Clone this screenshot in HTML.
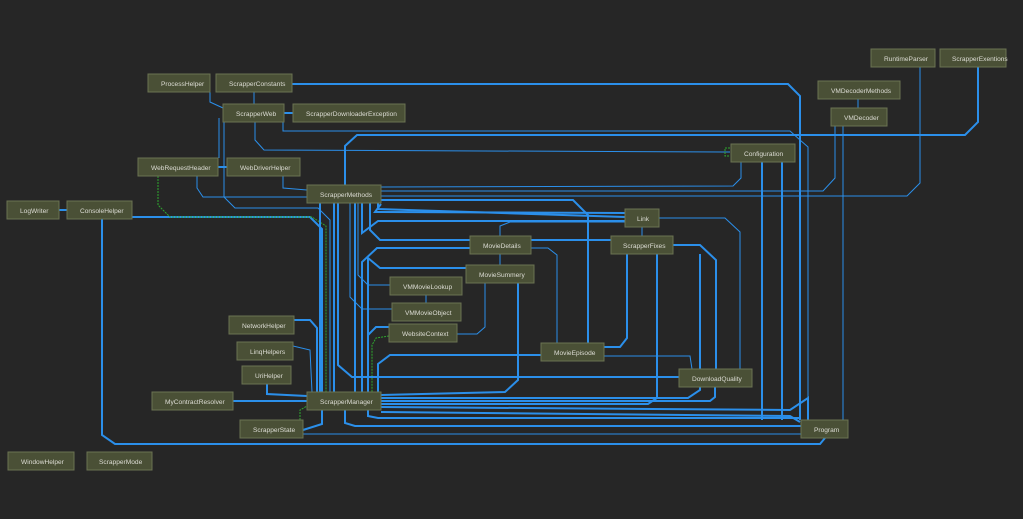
<!DOCTYPE html>
<html><head><meta charset="utf-8"><style>
html,body{margin:0;padding:0;background:#262626;}
svg{display:block}
.n rect{fill:#4a5036;stroke:#6b7352;stroke-width:1}
.n text{font-family:"Liberation Sans",sans-serif;font-size:6.6px;fill:#dcdcd4}
.e{fill:none;stroke:#2b8fea;stroke-width:2}
.t{fill:none;stroke:#2b8fea;stroke-width:1}
.g{fill:none;stroke:#2fa82f;stroke-width:1;stroke-dasharray:2,1}
</style></head><body>
<svg width="1023" height="519" viewBox="0 0 1023 519">
<g>
<polyline class="e" points="292,84 788,84 800,96 800,420"/>
<polyline class="t" points="210,92 210,102 223,108"/>
<polyline class="t" points="254,92 254,104"/>
<polyline class="e" points="284,113 293,113"/>
<polyline class="t" points="283,122 283,131 790,131 800,140 800,420"/>
<polyline class="t" points="255,122 255,140 264,150 725,152 730,152"/>
<polyline class="e" points="345,185 345,146 357,135 965,135 978,122 978,67"/>
<polyline class="t" points="219,118 219,158"/>
<polyline class="t" points="224,122 224,197 235,208 318,208 330,220 330,400"/>
<polyline class="e" points="218,167 227,167"/>
<polyline class="t" points="197,176 197,188 203,197 307,197"/>
<polyline class="t" points="283,176 283,188 307,190"/>
<polyline class="e" points="59,210 67,210"/>
<polyline class="e" points="132,217 310,217 322,229 322,400"/>
<polyline class="e" points="102,219 102,435 115,444 820,444 825,438"/>
<polyline class="g" points="158,176 158,205 170,217 312,217 326,226 326,392"/>
<polyline class="t" points="920,67 920,183 907,196 381,196"/>
<polyline class="t" points="835,126 835,178 823,191 381,191"/>
<polyline class="t" points="858,99 858,108"/>
<polyline class="t" points="843,126 843,420"/>
<polyline class="t" points="741,162 741,178 733,186 381,187"/>
<polyline class="e" points="762,162 762,420"/>
<polyline class="e" points="782,162 782,420"/>
<polyline class="t" points="800,140 808,147 808,420"/>
<polyline class="g" points="730,148 725,148 725,156 730,156"/>
<polyline class="e" points="381,200 573,200 588,215 588,343"/>
<polyline class="e" points="381,204 375,212 625,213"/>
<polyline class="e" points="370,203 370,230 380,240 470,240"/>
<polyline class="e" points="362,203 362,233 378,221 625,221"/>
<polyline class="e" points="378,203 378,209 625,217"/>
<polyline class="t" points="659,218 725,218 740,232 740,369"/>
<polyline class="t" points="642,227 642,236"/>
<polyline class="e" points="531,240 611,240"/>
<polyline class="e" points="673,245 700,245 716,260 716,369"/>
<polyline class="e" points="627,254 627,338 620,347 604,347"/>
<polyline class="e" points="657,254 657,398 648,404 381,404"/>
<polyline class="t" points="500,236 500,226 510,222 625,222"/>
<polyline class="t" points="500,265 500,254"/>
<polyline class="t" points="531,248 548,248 557,255 557,343"/>
<polyline class="e" points="470,248 377,248 362,262 362,400"/>
<polyline class="e" points="466,268 380,268 368,258 368,392"/>
<polyline class="t" points="358,203 358,275 368,285 390,285"/>
<polyline class="t" points="426,295 426,303"/>
<polyline class="t" points="350,203 350,297 362,309 392,309"/>
<polyline class="t" points="457,334 477,334 485,327 485,283"/>
<polyline class="e" points="518,283 518,380 505,392 381,395"/>
<polyline class="e" points="389,327 376,327 368,335 368,392"/>
<polyline class="g" points="389,336 376,338 372,345 372,392"/>
<polyline class="e" points="541,355 390,355 378,364 378,392"/>
<polyline class="t" points="604,356 690,356 692,369"/>
<polyline class="e" points="338,203 338,365 352,377 679,377"/>
<polyline class="e" points="715,387 715,397 710,401 381,401"/>
<polyline class="e" points="700,254 700,390 688,398 381,398"/>
<polyline class="e" points="355,203 355,407"/>
<polyline class="e" points="381,407 790,410 808,398 808,420"/>
<polyline class="e" points="381,412 790,416 800,422"/>
<polyline class="e" points="368,410 368,416 378,418 801,418"/>
<polyline class="e" points="345,410 345,423 355,426 801,426"/>
<polyline class="e" points="294,320 310,320 317,328 317,392"/>
<polyline class="t" points="293,346 310,350 312,392"/>
<polyline class="e" points="267,384 267,394 307,396"/>
<polyline class="e" points="233,401 307,401"/>
<polyline class="e" points="322,410 322,424 303,430"/>
<polyline class="t" points="303,434 801,434"/>
<polyline class="g" points="300,420 300,410 307,406"/>
<polyline class="e" points="320,203 320,392"/>
<polyline class="e" points="334,203 334,392"/>
</g>
<g class="n">
<rect x="148" y="74" width="62" height="18"/><text x="161" y="86">ProcessHelper</text>
<rect x="216" y="74" width="76" height="18"/><text x="229" y="86">ScrapperConstants</text>
<rect x="223" y="104" width="61" height="18"/><text x="236" y="116">ScrapperWeb</text>
<rect x="293" y="104" width="112" height="18"/><text x="306" y="116">ScrapperDownloaderException</text>
<rect x="138" y="158" width="80" height="18"/><text x="151" y="170">WebRequestHeader</text>
<rect x="227" y="158" width="73" height="18"/><text x="240" y="170">WebDriverHelper</text>
<rect x="307" y="185" width="74" height="18"/><text x="320" y="197">ScrapperMethods</text>
<rect x="7" y="201" width="52" height="18"/><text x="20" y="213">LogWriter</text>
<rect x="67" y="201" width="65" height="18"/><text x="80" y="213">ConsoleHelper</text>
<rect x="871" y="49" width="64" height="18"/><text x="884" y="61">RuntimeParser</text>
<rect x="940" y="49" width="66" height="18"/><text x="952" y="61">ScrapperExentions</text>
<rect x="818" y="81" width="82" height="18"/><text x="831" y="93">VMDecoderMethods</text>
<rect x="831" y="108" width="56" height="18"/><text x="844" y="120">VMDecoder</text>
<rect x="731" y="144" width="64" height="18"/><text x="744" y="156">Configuration</text>
<rect x="625" y="209" width="34" height="18"/><text x="637" y="221">Link</text>
<rect x="611" y="236" width="62" height="18"/><text x="623" y="248">ScrapperFixes</text>
<rect x="470" y="236" width="61" height="18"/><text x="483" y="248">MovieDetails</text>
<rect x="466" y="265" width="68" height="18"/><text x="479" y="277">MovieSummery</text>
<rect x="390" y="277" width="72" height="18"/><text x="403" y="289">VMMovieLookup</text>
<rect x="392" y="303" width="69" height="18"/><text x="405" y="315">VMMovieObject</text>
<rect x="389" y="324" width="68" height="18"/><text x="402" y="336">WebsiteContext</text>
<rect x="541" y="343" width="63" height="18"/><text x="554" y="355">MovieEpisode</text>
<rect x="679" y="369" width="73" height="18"/><text x="692" y="381">DownloadQuality</text>
<rect x="229" y="316" width="65" height="18"/><text x="242" y="328">NetworkHelper</text>
<rect x="237" y="342" width="56" height="18"/><text x="250" y="354">LinqHelpers</text>
<rect x="242" y="366" width="49" height="18"/><text x="255" y="378">UriHelper</text>
<rect x="152" y="392" width="81" height="18"/><text x="165" y="404">MyContractResolver</text>
<rect x="307" y="392" width="74" height="18"/><text x="320" y="404">ScrapperManager</text>
<rect x="240" y="420" width="63" height="18"/><text x="253" y="432">ScrapperState</text>
<rect x="801" y="420" width="47" height="18"/><text x="814" y="432">Program</text>
<rect x="8" y="452" width="66" height="18"/><text x="21" y="464">WindowHelper</text>
<rect x="87" y="452" width="65" height="18"/><text x="99" y="464">ScrapperMode</text>
</g>
</svg>
</body></html>
